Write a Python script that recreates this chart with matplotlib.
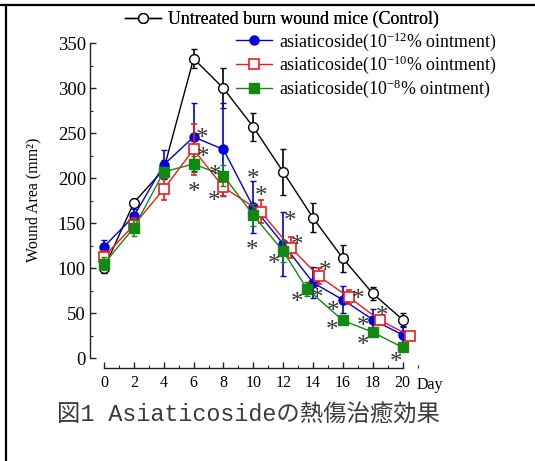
import numpy as np
import matplotlib.pyplot as plt
from matplotlib.lines import Line2D
from matplotlib.ticker import MultipleLocator

plt.rcParams['font.family'] = ['Liberation Serif', 'DejaVu Serif']
plt.rcParams['mathtext.fontset'] = 'custom'
plt.rcParams['mathtext.rm'] = 'Liberation Serif'
plt.rcParams['mathtext.it'] = 'Liberation Serif:italic'
plt.rcParams['mathtext.bf'] = 'Liberation Serif:bold'

# wound area (mm2) per day, mean and error
days = [0, 2, 4, 6, 8, 10, 12, 14, 16, 18, 20]
control = [100, 173, 210, 333, 300, 257, 207, 156, 111, 72, 43]
control_err = [5, 4, 10, 11, 22, 16, 26, 16, 15, 7, 7]

low_days = [0, 2, 4, 6, 8, 10, 12, 14, 16, 18, 20]
low = [124, 158, 215, 246, 232, 168, 127, 84, 65, 43, 26]
low_err = [7, 8, 16, 38, 52, 29, 36, 17, 15, 12, 9]

mid_days = [0, 2, 4, 6, 8, 10.5, 12.5, 14.4, 16.4, 18.5, 20.5]
mid = [113, 148, 188, 232, 190, 163, 123, 91, 68, 42, 25]
mid_err = [6, 8, 12, 28, 10, 13, 12, 9, 8, 5, 4]

high_days = [0, 2, 4, 6, 8, 10, 12, 13.6, 16, 18, 20]
high = [105, 145, 207, 216, 203, 159, 119, 77, 42, 29, 12]
high_err = [7, 9, 6, 9, 12, 12, 12, 8, 4, 4, 4]

# significance marks
star_x = [6.54, 6.65, 6.03, 7.43, 7.37, 10.0, 10.52, 9.93, 12.46, 12.91, 11.41,
          14.8, 12.91, 14.25, 15.36, 17.03, 15.29, 18.6, 17.37, 17.37, 19.56]
star_y = [250, 229, 190, 209, 180, 204, 185, 126, 158, 131, 110,
          102, 68, 72, 58, 71, 37, 52, 41, 20, 1]

labels = ['Untreated burn wound mice (Control)',
          'asiaticoside(10$^{-12}$% ointment)',
          'asiaticoside(10$^{-10}$% ointment)',
          'asiaticoside(10$^{-8}$% ointment)']

W, H = 535, 461
fig = plt.figure(figsize=(W / 100, H / 100), dpi=100)
ax = fig.add_axes([90 / W, (H - 368) / H, 335 / W, 326.5 / H])

lw = 1.0
c_ctrl = ax.errorbar(days, control, yerr=control_err, color='black', lw=lw,
                     marker='o', ms=7, mfc='white', mec='black', mew=1.0,
                     capsize=2.2, elinewidth=1.2, zorder=2)
c_low = ax.errorbar(low_days, low, yerr=low_err, color='#0000dd', lw=lw,
                    marker='o', ms=6.5, mfc='#0000dd', mec='#0000dd',
                    capsize=2.2, elinewidth=1.2, zorder=3)
c_mid = ax.errorbar(mid_days, mid, yerr=mid_err, color='#ee1c1c', lw=lw,
                    marker='s', ms=7.5, mfc='white', mec='#ee1c1c', mew=1.2,
                    capsize=2.2, elinewidth=1.2, zorder=4)
c_high = ax.errorbar(high_days, high, yerr=high_err, color='#128a12', lw=lw,
                     marker='s', ms=7.5, mfc='#128a12', mec='#128a12',
                     capsize=2.2, elinewidth=1.2, zorder=5)

for sx, sy in zip(star_x, star_y):
    ax.annotate('*', (sx, sy), xytext=(0, -8.4), textcoords='offset points',
                ha='center', va='baseline', fontsize=18, color='#333333',
                zorder=6)

ax.set_xlim(-0.94, 21.5)
ax.set_ylim(-10.8, 352)
ax.spines['top'].set_visible(False)
ax.spines['right'].set_visible(False)
ax.spines['left'].set_bounds(0, 350)
ax.spines['bottom'].set_bounds(0, 20)
for s in ('left', 'bottom'):
    ax.spines[s].set_linewidth(1.0)
    ax.spines[s].set_color('#222222')

ax.set_xticks(range(0, 21, 2))
ax.set_yticks(range(0, 351, 50))
ax.xaxis.set_minor_locator(MultipleLocator(1))
ax.yaxis.set_minor_locator(MultipleLocator(25))
ax.tick_params(which='both', direction='in', color='#222222')
ax.tick_params(which='major', length=4, width=1.0)
ax.tick_params(which='minor', length=2.5, width=0.8)
ax.tick_params(axis='x', labelsize=11.5, pad=5)
ax.tick_params(axis='y', labelsize=13.5, pad=3)

ax.text(20.95, -0.052, 'Day', transform=ax.get_xaxis_transform(),
        ha='left', va='center', fontsize=11.5)
ax.set_ylabel('Wound Area (mm²)', fontsize=11.5)
ax.yaxis.set_label_coords(-0.145, 0.515)

leg1 = fig.legend([c_ctrl[0]], labels[:1], loc='upper left',
                  bbox_to_anchor=(125 / W, 1 - 11 / H), frameon=False,
                  fontsize=12.9, handlelength=2.0, handletextpad=0.4,
                  borderpad=0, borderaxespad=0)
fig.legend([c_low[0], c_mid[0], c_high[0]], labels[1:], loc='upper left',
           bbox_to_anchor=(236 / W, 1 - 30 / H), frameon=False,
           fontsize=12.9, handlelength=2.0, handletextpad=0.4,
           borderpad=0, borderaxespad=0, labelspacing=0.08)
fig.add_artist(leg1)

fig.text(57 / W, 1 - 415 / H, '図1 Asiaticosideの熱傷治癒効果',
         family=['Liberation Mono', 'Noto Sans CJK JP'], fontsize=16.8,
         color='#3a3a3a', ha='left', va='center')

# page border, top and left
fig.add_artist(Line2D([0, 1], [1 - 5 / H, 1 - 5 / H], transform=fig.transFigure,
                      color='black', lw=1.6))
fig.add_artist(Line2D([6 / W, 6 / W], [0, 1 - 5 / H], transform=fig.transFigure,
                      color='black', lw=1.6))

fig.savefig('out.png', dpi=100)
